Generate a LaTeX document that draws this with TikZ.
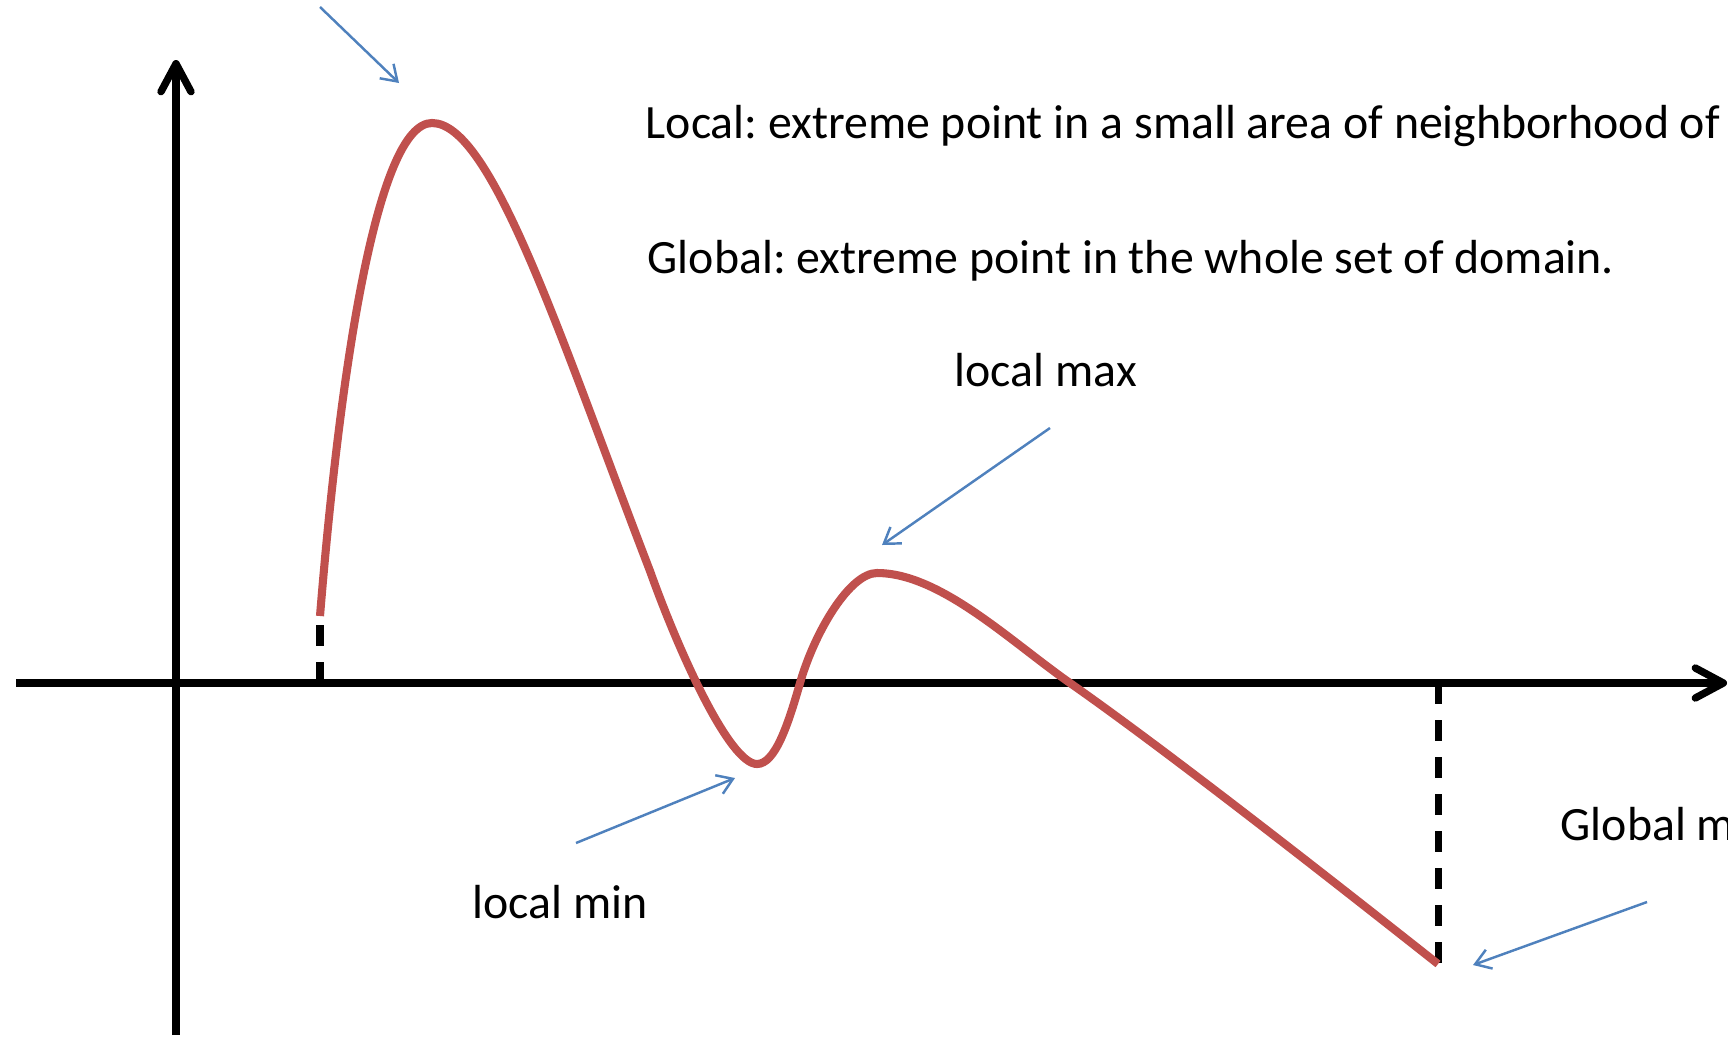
\documentclass[tikz,border=0pt]{standalone}
\usepackage{fontspec}
\setmainfont{Carlito}
\usetikzlibrary{arrows.meta}
\definecolor{curvered}{RGB}{192,80,77}
\definecolor{arrowblue}{RGB}{79,129,189}

\begin{document}
\frenchspacing
\begin{tikzpicture}[x=0.01cm, y=-0.01cm,
    axis/.style={line width=2.1pt, -{Straight Barb[length=0.28cm, width=0.3cm, line cap=round, line join=round]}},
    curve/.style={curvered, line width=2.3pt, line cap=butt},
    guide/.style={line width=2pt, dash pattern=on 0.21cm off 0.16cm},
    pointer/.style={arrowblue, line width=0.7pt, -{Straight Barb[length=0.15cm, width=0.2cm]}},
    label/.style={anchor=base west, inner sep=0pt, font=\fontsize{13.6}{16}\selectfont}]
    \useasboundingbox (0,0) rectangle (1728,1039);
    % axes
    \coordinate (xstart) at (16,683);
    \coordinate (xend) at (1727,683);
    \coordinate (ystart) at (176,1035);
    \coordinate (yend) at (176,60);
    \draw[axis] (xstart) -- (xend);
    \draw[axis] (ystart) -- (yend);
    % domain ends
    \coordinate (a) at (320,683);
    \coordinate (fa) at (320,616);
    \coordinate (b) at (1438,683);
    \coordinate (fb) at (1438,964);
    \draw[guide] (a) -- (fa);
    \draw[guide] (b) -- (fb);
    % the function
    \coordinate (peak) at (432,123);
    \coordinate (down) at (650,571);
    \coordinate (lowest) at (757,764);
    \coordinate (up) at (800,683);
    \coordinate (bump) at (877,573);
    \coordinate (cross) at (1070,683);
    \draw[curve] (fa) .. controls (340,370) and (377,123) .. (peak)
        .. controls (492,123) and (560,337) .. (down)
        .. controls (680,655) and (730,764) .. (lowest)
        .. controls (775,764) and (788,725) .. (up)
        .. controls (815,631) and (850,573) .. (bump)
        .. controls (940,573) and (1010,641) .. (cross)
        .. controls (1170,753) and (1338,885) .. (fb);
    % labels
    \node[label] (loc) at (645,138) {Local: extreme point in a small area of neighborhood of};
    \node[label] (glob) at (647,273) {Global: extreme point in the whole set of domain.};
    \node[label] (lmax) at (954,386) {local max};
    \node[label] (lmin) at (472,918) {local min};
    \node[label] (gmin) at (1560,840) {Global m};
    % pointers
    \coordinate (peakTail) at (320,7);
    \coordinate (peakTip) at (399,83);
    \coordinate (maxTail) at (1050,428);
    \coordinate (maxTip) at (882,545);
    \coordinate (minTail) at (576,843);
    \coordinate (minTip) at (735,778);
    \coordinate (gminTail) at (1647,902);
    \coordinate (gminTip) at (1473,965);
    \draw[pointer] (peakTail) -- (peakTip);
    \draw[pointer] (maxTail) -- (maxTip);
    \draw[pointer] (minTail) -- (minTip);
    \draw[pointer] (gminTail) -- (gminTip);
\end{tikzpicture}
\end{document}
